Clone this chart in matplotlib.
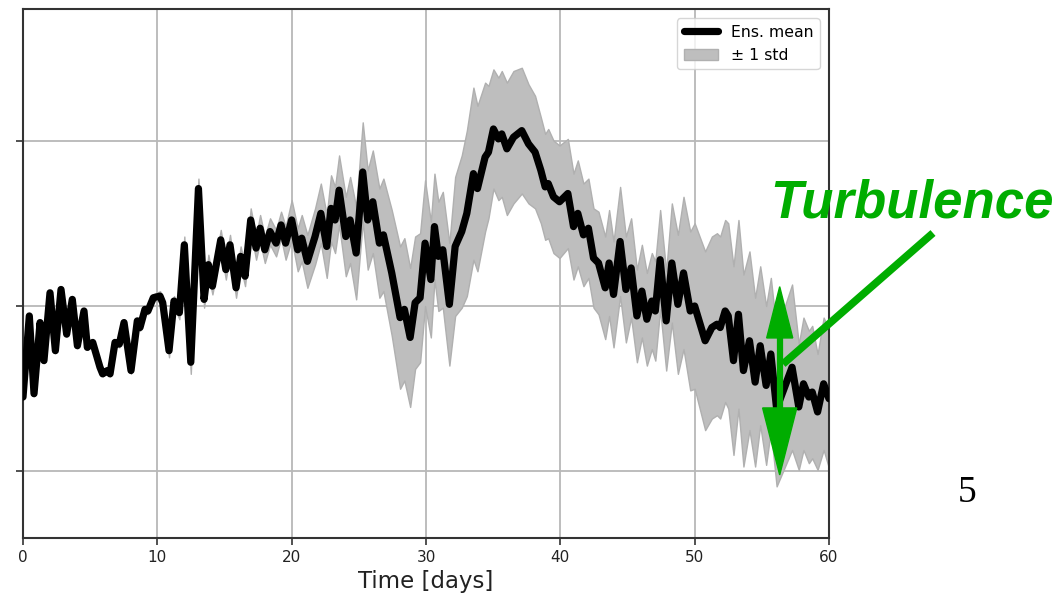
import matplotlib
matplotlib.use("Agg")
import matplotlib.pyplot as plt
from matplotlib.patches import Polygon
from matplotlib.lines import Line2D

# ---- data ----
days = [0.0, 0.47, 0.82, 1.27, 1.56, 2.01, 2.41, 2.83, 3.25, 3.67, 4.05, 4.54, 4.79, 5.19,
        5.73, 5.93, 6.28, 6.48, 6.85, 7.17, 7.52, 8.04, 8.51, 8.71, 9.08, 9.30, 9.70, 10.2,
        10.4, 10.87, 11.24, 11.64, 12.01, 12.49, 13.06, 13.48, 13.80, 14.10, 14.72, 15.10,
        15.41, 15.86, 16.20, 16.53, 16.95, 17.35, 17.65, 18.00, 18.39, 18.84, 19.21, 19.55,
        20.0, 20.45, 20.75, 21.17, 21.74, 22.17, 22.61, 22.93, 23.23, 23.53, 24.03, 24.35,
        24.80, 25.29, 25.66, 26.04, 26.53, 26.83, 27.45, 28.07, 28.39, 28.82, 29.19, 29.56,
        29.93, 30.36, 30.63, 30.92, 31.25, 31.74, 32.17, 32.66, 33.04, 33.53, 33.83, 34.40,
        34.65, 35.02, 35.39, 35.64, 36.02, 36.51, 37.13, 37.63, 38.12, 38.55, 38.87, 39.10,
        39.49, 39.94, 40.56, 40.98, 41.30, 41.72, 42.09, 42.47, 42.84, 43.34, 43.63, 43.96,
        44.45, 44.88, 45.27, 45.70, 46.07, 46.44, 46.81, 47.07, 47.43, 47.88, 48.30, 48.75,
        49.17, 49.67, 50.00, 50.78, 51.28, 51.66, 51.90, 52.27, 52.50, 52.89, 53.26, 53.63,
        54.08, 54.50, 54.88, 55.32, 55.67, 56.10, 57.25, 57.75, 58.10, 58.50, 58.75, 59.15,
        59.60, 60.00]

ens_mean = [-0.55, -0.06, -0.53, -0.10, -0.33, 0.08, -0.27, 0.10, -0.17, 0.04, -0.24, -0.03,
            -0.25, -0.22, -0.37, -0.41, -0.39, -0.41, -0.22, -0.23, -0.10, -0.39, -0.09, -0.13,
            -0.02, -0.03, 0.05, 0.06, 0.02, -0.27, 0.03, -0.04, 0.37, -0.34, 0.71, 0.04, 0.25,
            0.12, 0.40, 0.22, 0.37, 0.11, 0.30, 0.18, 0.52, 0.35, 0.47, 0.34, 0.45, 0.38, 0.49,
            0.38, 0.52, 0.34, 0.41, 0.27, 0.42, 0.56, 0.36, 0.59, 0.52, 0.70, 0.42, 0.52, 0.32,
            0.81, 0.52, 0.63, 0.38, 0.43, 0.20, -0.07, -0.02, -0.19, 0.02, 0.05, 0.38, 0.16,
            0.48, 0.30, 0.34, 0.01, 0.36, 0.45, 0.56, 0.80, 0.71, 0.90, 0.93, 1.07, 1.01, 1.04,
            0.95, 1.02, 1.06, 0.98, 0.93, 0.82, 0.72, 0.74, 0.66, 0.63, 0.68, 0.48, 0.56, 0.43,
            0.47, 0.29, 0.26, 0.11, 0.26, 0.07, 0.39, 0.10, 0.23, -0.06, 0.09, -0.08, 0.03,
            -0.03, 0.28, -0.09, 0.26, 0.01, 0.20, -0.03, 0.00, -0.21, -0.13, -0.11, -0.13,
            -0.03, -0.06, -0.33, -0.05, -0.39, -0.21, -0.46, -0.24, -0.48, -0.29, -0.62, -0.37,
            -0.61, -0.47, -0.55, -0.52, -0.64, -0.47, -0.56]

ens_std = [0.015, 0.015, 0.015, 0.015, 0.015, 0.015, 0.015, 0.015, 0.015, 0.015, 0.015, 0.015,
           0.015, 0.015, 0.015, 0.015, 0.015, 0.015, 0.02, 0.02, 0.02, 0.02, 0.02, 0.02,
           0.02, 0.02, 0.02, 0.03, 0.03, 0.04, 0.03, 0.04, 0.05, 0.07, 0.06, 0.05, 0.06,
           0.05, 0.06, 0.06, 0.06, 0.06, 0.06, 0.06, 0.07, 0.07, 0.08, 0.08, 0.08, 0.08, 0.08,
           0.10, 0.12, 0.13, 0.14, 0.16, 0.17, 0.18, 0.19, 0.20, 0.20, 0.21, 0.24, 0.26, 0.28,
           0.30, 0.30, 0.31, 0.33, 0.34, 0.38, 0.43, 0.43, 0.42, 0.40, 0.39, 0.38, 0.35,
           0.32, 0.33, 0.35, 0.37, 0.42, 0.46, 0.50, 0.52, 0.50, 0.45, 0.40, 0.36, 0.37, 0.38,
           0.40, 0.40, 0.38, 0.36, 0.34, 0.32, 0.32, 0.33, 0.34, 0.34, 0.33, 0.32, 0.32, 0.31,
           0.30, 0.30, 0.31, 0.31, 0.32, 0.32, 0.33, 0.32, 0.30, 0.28, 0.28, 0.28, 0.29,
           0.30, 0.30, 0.30, 0.36, 0.42, 0.46, 0.48, 0.50, 0.54, 0.55, 0.55, 0.55,
           0.55, 0.56, 0.57, 0.57, 0.58, 0.54, 0.51, 0.48, 0.48, 0.46, 0.47, 0.50,
           0.38, 0.40, 0.40, 0.40, 0.35, 0.40, 0.42]

x_ticks = [0, 10, 20, 30, 40, 50, 60]
y_ticks = [-1, 0, 1]
legend_labels = ["Ens. mean", "\u00b1 1 std"]
annotation_text = "Turbulence"
slide_number = "5"

# ---- figure ----
W, H = 1062, 595
fig = plt.figure(figsize=(W / 100, H / 100), dpi=100)
ax = fig.add_axes([23 / W, 1 - 538 / H, (829 - 23) / W, (538 - 9) / H])

lower = [m - s for m, s in zip(ens_mean, ens_std)]
upper = [m + s for m, s in zip(ens_mean, ens_std)]
band = ax.fill_between(days, lower, upper, color="#bebebe", edgecolor="#b0b0b0",
                       linewidth=1.0, label=legend_labels[1], zorder=2)
line, = ax.plot(days, ens_mean, color="black", linewidth=5.2, solid_joinstyle="round",
                solid_capstyle="round", label=legend_labels[0], zorder=3)

ax.set_xlim(0, 60)
ax.set_ylim(-1.402, 1.795)
ax.set_xticks(x_ticks)
ax.set_yticks(y_ticks)
ax.set_yticklabels([])
ax.tick_params(axis="both", labelsize=11, color="#333333", length=5, width=1.2,
               labelcolor="#222222")
ax.grid(True, color="#b8b8b8", linewidth=1.3, zorder=0)
ax.set_axisbelow(True)
for sp in ax.spines.values():
    sp.set_color("#333333")
    sp.set_linewidth(1.5)
ax.set_xlabel("Time [days]", fontsize=16.5, color="#222222", labelpad=4)

leg = ax.legend([line, band], legend_labels, loc="upper right", fontsize=11.3,
                frameon=True, handlelength=2.2, borderaxespad=0.6, framealpha=0.8)
leg.get_frame().set_edgecolor("#cccccc")

# ---- annotation: Turbulence ----
green = "#00ad00"
fig.text(770 / W, 1 - 218 / H, annotation_text, fontsize=38, color=green,
         fontweight="bold", fontstyle="italic", family="Liberation Sans",
         ha="left", va="baseline")
fig.add_artist(Line2D([933 / W, 783 / W], [1 - 233 / H, 1 - 364 / H], color=green,
                      linewidth=5.5, solid_capstyle="butt"))

# vertical double arrow on the chart
xa = 56.33
ax.plot([xa, xa], [-0.19, -0.62], color=green, linewidth=4.5, zorder=5, clip_on=False)
ax.add_patch(Polygon([[xa - 0.97, -0.193], [xa + 0.97, -0.193], [xa, 0.117]],
                     closed=True, color=green, zorder=5, clip_on=False))
ax.add_patch(Polygon([[xa - 1.27, -0.616], [xa + 1.27, -0.616], [xa, -1.021]],
                     closed=True, color=green, zorder=5, clip_on=False))

# slide number
fig.text(967 / W, 1 - 493 / H, slide_number, fontsize=27, family="Liberation Serif",
         color="black", ha="center", va="center")

fig.savefig("out.png", dpi=100)
